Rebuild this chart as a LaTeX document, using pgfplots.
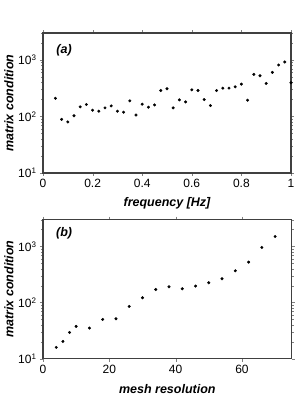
\documentclass[border=0pt]{standalone}
\usepackage{fontspec}
\setmainfont{Liberation Sans}
\usepackage{pgfplots}
\pgfplotsset{compat=1.18}
\begin{document}
\begin{tikzpicture}
\path[use as bounding box] (0pt,0pt) rectangle (300pt,397pt);
\begin{axis}[scale only axis, ymode=log, ymin=10, ymax=3000,
  axis line style={line width=1.2pt, black!75},
  tick align=outside, tick pos=both,
  major tick length=3pt, minor tick length=2pt,
  ytick={10,100,1000},
  yticklabels={10\textsuperscript{1},10\textsuperscript{2},10\textsuperscript{3}},
  minor ytick={20,30,40,50,60,70,80,90,200,300,400,500,600,700,800,900,2000,3000},
  tick label style={font=\fontsize{12}{14}\selectfont},
  label style={font=\fontsize{12.5}{14}\selectfont\bfseries\itshape},
  ylabel={matrix condition},
  ylabel style={at={(axis description cs:-0.137,0.5)},anchor=center},
  xlabel style={at={(axis description cs:0.5,-0.215)},anchor=center},
  at={(43pt,224pt)}, anchor=south west, width=248pt, height=140pt,
  xmin=0, xmax=1, xtick={0,0.2,0.4,0.6,0.8,1}, xticklabels={0,0.2,0.4,0.6,0.8,1},
  xlabel={frequency [Hz]}]
\addplot[only marks, mark=*, mark size=1.3pt, black] coordinates {
(0.05,210)(0.075,89)(0.1,80)(0.125,103)(0.15,148)(0.175,163)(0.2,129)(0.225,124)
(0.25,142)(0.275,154)(0.3,124)(0.325,119)(0.35,189)(0.375,106)(0.4,165)(0.425,146)
(0.45,160)(0.475,288)(0.5,309)(0.525,142)(0.55,197)(0.575,181)(0.6,296)(0.625,288)
(0.65,199)(0.675,156)(0.7,288)(0.725,317)(0.75,317)(0.775,335)(0.8,374)(0.825,194)
(0.85,556)(0.875,526)(0.9,384)(0.925,603)(0.95,815)(0.975,921)(1.0,395)};
\node[font=\fontsize{12.5}{14}\selectfont\bfseries\itshape] at (rel axis cs:0.085,0.88) {(a)};
\end{axis}
\begin{axis}[scale only axis, ymode=log, ymin=10, ymax=3000,
  axis line style={line width=1.2pt, black!75},
  tick align=outside, tick pos=both,
  major tick length=3pt, minor tick length=2pt,
  ytick={10,100,1000},
  yticklabels={10\textsuperscript{1},10\textsuperscript{2},10\textsuperscript{3}},
  minor ytick={20,30,40,50,60,70,80,90,200,300,400,500,600,700,800,900,2000,3000},
  tick label style={font=\fontsize{12}{14}\selectfont},
  label style={font=\fontsize{12.5}{14}\selectfont\bfseries\itshape},
  ylabel={matrix condition},
  ylabel style={at={(axis description cs:-0.137,0.5)},anchor=center},
  xlabel style={at={(axis description cs:0.5,-0.216)},anchor=center},
  at={(43pt,38.3pt)}, anchor=south west, width=248.7pt, height=139pt,
  xmin=0, xmax=75, xtick={0,20,40,60}, xticklabels={0,20,40,60},
  xlabel={mesh resolution}]
\addplot[only marks, mark=*, mark size=1.3pt, black] coordinates {
(4,15.9)(6,20.3)(8,29.4)(10,37.7)(14,35.2)(18,50.1)(22,51.5)(26,85.5)(30,122)
(34,171)(38,191)(42,176)(46,197)(50,226)(54,266)(58,369)(62,526)(66,960)(70,1507)};
\node[font=\fontsize{12.5}{14}\selectfont\bfseries\itshape] at (rel axis cs:0.085,0.90) {(b)};
\end{axis}
\end{tikzpicture}
\end{document}
